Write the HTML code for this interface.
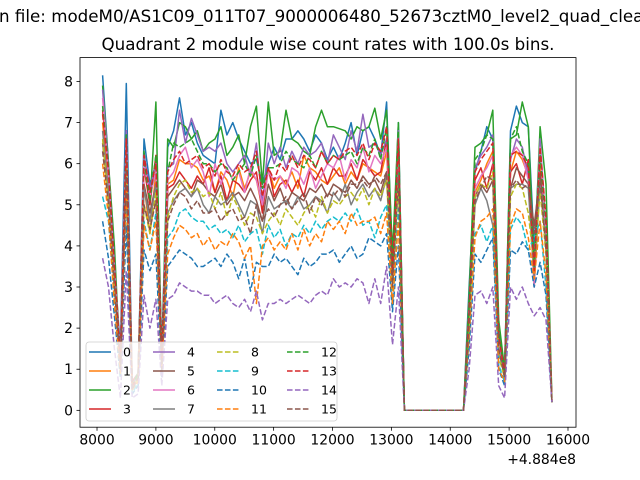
<!DOCTYPE html>
<html><head><meta charset="utf-8"><style>
html,body{margin:0;padding:0;background:#fff;}
svg{display:block;font-family:"DejaVu Sans","Liberation Sans",sans-serif;}
</style></head><body>
<svg id="chart" width="640" height="480" viewBox="0 0 640 480" xmlns="http://www.w3.org/2000/svg">
<text x="-1" y="22" font-size="16.7" fill="#000">n file: modeM0/AS1C09_011T07_9000006480_52673cztM0_level2_quad_clean.evt</text>
<text x="328" y="50" font-size="16.7" text-anchor="middle" fill="#000">Quadrant 2 module wise count rates with 100.0s bins.</text>
<g id="plot"></g>
</svg>
<script>
const seriesLabels=["0","1","2","3","4","5","6","7","8","9","10","11","12","13","14","15"];
const colors=["#1f77b4","#ff7f0e","#2ca02c","#d62728","#9467bd","#8c564b","#e377c2","#7f7f7f","#bcbd22","#17becf","#1f77b4","#ff7f0e","#2ca02c","#d62728","#9467bd","#8c564b"];
const xTicks=[8000,9000,10000,11000,12000,13000,14000,15000,16000];
const yTicks=[0,1,2,3,4,5,6,7,8];
const seg1Start=8095, seg2Start=14320, binSize=100.5, zeroCount=11;
const seg1=[
[8.15,6.0,3.5,1.5,7.95,0.7,0.9,6.6,5.5,6.0,1.5,6.4,6.8,7.6,6.7,7.0,6.5,6.2,6.1,6.0,7.3,6.7,7.0,6.6,6.3,6.0,6.1,5.5,6.0,6.4,6.1,6.6,6.6,6.8,6.6,6.3,6.7,6.5,6.1,6.4,6.1,6.5,7.0,6.2,6.8,6.9,6.6,6.2,7.5,3.5,7.0],
[7.0,5.5,3.0,1.2,6.0,0.6,0.8,5.5,4.3,5.8,1.0,5.5,5.6,6.1,6.0,6.0,5.9,5.6,5.7,5.3,5.8,5.6,5.2,5.9,5.4,5.8,5.6,4.9,5.9,5.4,5.7,5.5,5.8,5.4,6.2,5.9,5.8,5.6,5.5,5.7,5.9,5.5,5.8,5.6,6.0,5.9,5.8,5.7,6.3,3.0,6.1],
[7.9,6.0,4.0,1.0,6.5,0.5,0.8,6.3,5.0,7.5,1.2,6.6,6.4,7.0,6.9,6.6,6.8,6.3,6.5,6.6,6.9,6.2,6.4,6.7,6.0,6.9,7.4,5.5,7.5,6.2,6.3,7.3,6.6,6.5,6.3,6.2,6.9,7.3,6.9,6.9,6.85,6.8,6.6,6.9,6.8,6.9,7.35,6.6,7.3,3.8,7.0],
[7.3,5.8,3.5,1.3,6.8,0.7,0.9,5.9,5.0,6.2,1.3,5.4,5.5,5.8,5.6,5.4,5.7,5.5,5.9,5.3,5.7,5.1,5.6,5.5,5.3,5.6,5.8,4.8,5.9,5.2,5.5,5.6,5.3,5.6,5.2,5.8,5.6,5.9,5.5,5.9,5.7,5.7,6.0,5.6,6.1,5.9,5.7,5.8,6.6,3.3,6.5],
[7.8,5.9,3.6,1.2,6.8,0.6,0.8,6.2,5.4,6.0,1.2,5.9,6.0,7.3,6.5,7.1,6.7,6.3,6.4,6.3,6.5,6.0,5.8,6.0,6.2,5.7,6.5,5.0,6.5,6.0,6.4,5.9,6.3,6.0,6.4,6.2,6.3,6.5,6.0,6.7,6.4,6.1,6.8,6.3,7.2,6.4,6.5,6.2,6.6,3.2,6.8],
[6.5,5.2,3.3,1.1,6.3,0.6,0.9,5.5,4.8,5.5,1.2,5.2,5.4,5.6,5.4,5.2,5.6,5.5,5.3,5.2,5.5,5.0,5.2,5.3,5.1,5.4,5.1,4.6,5.5,5.1,5.4,5.0,5.3,5.2,5.1,5.4,5.3,5.5,5.2,5.5,5.4,5.3,5.6,5.4,5.7,5.5,5.6,5.3,5.8,3.1,6.0],
[7.6,5.7,3.4,1.2,6.6,0.6,0.8,6.0,5.2,5.8,1.2,5.6,5.8,6.2,6.4,5.9,6.1,5.8,5.2,6.0,5.5,5.9,5.6,5.8,5.3,5.9,5.6,5.0,5.8,5.6,5.7,5.4,5.9,5.8,5.5,5.9,5.4,5.7,6.0,5.9,6.2,5.6,6.1,5.9,6.4,5.8,6.2,6.0,6.4,3.2,6.3],
[6.8,5.3,3.2,1.1,6.2,0.6,0.9,5.4,4.6,5.5,1.1,4.8,5.1,5.3,5.4,5.2,5.4,5.0,4.8,5.2,5.0,5.1,5.3,5.0,4.7,5.1,5.0,4.3,5.2,4.9,5.0,5.1,4.9,5.2,4.9,5.0,5.2,5.1,4.8,5.3,5.1,5.5,5.0,5.3,5.5,5.2,5.4,5.1,5.7,3.0,5.8],
[6.6,5.0,3.0,1.0,5.9,0.5,0.8,5.0,4.3,5.3,1.0,4.7,5.2,5.5,5.6,5.3,5.4,5.2,5.3,4.9,5.3,4.7,5.2,4.9,4.5,4.8,4.7,4.3,4.6,4.8,4.5,4.9,4.7,4.5,4.8,5.0,4.7,5.2,4.8,5.1,5.0,5.2,5.3,5.1,5.4,5.0,5.4,5.2,5.6,2.9,5.6],
[5.2,4.6,2.7,0.8,5.2,0.4,0.7,4.6,3.9,4.8,0.9,4.2,4.4,4.8,4.9,4.7,4.6,4.6,4.4,4.5,4.3,4.4,4.2,4.5,4.1,4.3,4.4,3.8,4.5,4.2,4.4,4.0,4.3,4.2,4.5,4.3,4.6,4.4,4.6,4.7,4.6,4.8,4.6,4.9,4.5,4.6,4.2,4.7,5.0,2.5,4.9],
[4.6,3.7,2.3,0.8,4.5,0.4,0.6,3.9,3.4,3.8,0.8,3.5,3.7,3.9,3.8,3.7,3.5,3.5,3.6,3.7,3.5,3.8,3.6,3.2,3.7,2.9,3.6,3.5,3.5,3.8,3.6,3.7,3.5,3.3,3.7,3.5,3.6,3.8,3.8,3.9,3.6,3.8,4.0,3.7,3.8,4.2,4.1,4.0,4.3,2.4,4.0],
[6.0,4.7,2.6,0.9,5.4,0.5,0.7,4.5,3.9,4.6,1.0,3.8,4.2,4.5,4.4,4.2,4.3,4.0,4.2,3.9,4.1,4.0,4.3,4.1,3.7,4.0,2.6,4.0,4.2,3.9,4.1,3.9,4.3,3.9,4.4,4.0,4.3,4.1,4.6,4.4,4.6,4.3,4.8,4.5,4.6,4.6,4.7,4.3,4.8,2.6,4.6],
[7.4,5.9,3.6,1.2,6.7,0.6,0.9,6.1,5.1,6.2,1.3,5.8,6.5,6.4,6.5,6.6,6.3,6.0,6.0,5.8,6.0,5.9,5.6,5.8,6.0,5.7,6.2,5.4,5.9,5.9,6.0,6.3,6.1,6.0,5.9,6.2,5.9,6.3,6.0,6.2,6.1,6.2,6.3,6.0,6.4,6.2,6.6,6.1,6.9,3.4,6.8],
[7.2,5.8,3.5,1.2,6.6,0.6,0.8,6.2,5.3,6.0,1.2,5.8,6.1,6.3,6.0,6.1,6.2,5.9,6.0,5.7,6.1,5.8,5.7,6.0,5.8,5.9,6.3,5.2,5.9,5.6,6.0,5.8,6.2,5.9,6.2,6.1,5.9,6.3,6.0,6.2,6.1,6.3,6.4,6.2,6.5,6.1,6.5,6.3,6.9,3.3,6.6],
[3.7,3.0,1.5,0.3,3.4,0.3,0.4,2.8,2.0,2.7,0.6,2.7,2.8,3.1,3.0,2.9,2.9,2.8,2.8,2.6,2.7,2.8,2.6,2.5,2.7,2.4,2.9,2.2,2.6,2.6,2.7,2.6,2.7,2.8,2.7,2.6,2.8,2.9,2.8,3.2,3.0,3.1,3.0,3.2,3.1,2.6,3.2,2.6,3.5,1.6,3.0],
[6.3,5.0,3.0,1.0,5.8,0.5,0.8,5.0,4.4,5.1,1.0,4.6,5.0,5.3,5.2,4.9,5.1,4.8,4.8,4.9,4.6,4.8,4.9,4.6,4.7,4.3,5.0,4.6,4.9,4.7,5.0,5.2,4.9,5.1,5.3,4.8,5.2,5.0,5.3,5.2,5.4,5.2,5.5,5.5,5.6,5.4,5.7,5.5,5.8,3.0,5.6]
];
const seg2=[
[3.0,5.8,6.3,6.9,6.6,2.0,1.0,6.8,7.4,7.0,6.9,4.0,6.4,4.5,0.2],
[2.3,5.3,5.6,6.0,6.3,1.8,0.8,5.8,6.3,6.1,5.7,3.3,6.0,4.0,0.2],
[2.8,6.4,6.5,6.7,7.3,2.2,1.0,6.6,6.7,7.5,6.9,3.5,6.9,5.5,0.3],
[2.3,5.6,5.9,5.4,6.0,1.6,0.9,5.8,6.0,5.5,6.1,3.0,5.8,4.2,0.2],
[2.5,5.9,6.2,6.4,6.7,1.8,0.9,6.1,6.6,6.4,5.7,3.4,6.6,4.4,0.2],
[2.1,5.2,5.5,5.3,5.6,1.5,0.8,5.4,5.9,5.7,5.5,4.5,5.7,4.0,0.2],
[2.4,5.4,5.7,5.9,6.2,1.7,0.8,6.2,6.4,6.2,5.6,3.0,6.4,4.3,0.2],
[2.2,5.0,5.4,5.1,4.5,1.5,0.8,5.4,5.5,5.5,5.4,3.2,5.5,4.0,0.2],
[2.0,5.2,5.5,5.4,5.8,1.3,0.8,5.2,5.5,5.4,4.8,3.5,5.3,3.8,0.2],
[1.7,4.3,4.5,4.1,4.5,1.1,0.7,4.4,4.7,4.5,3.9,4.2,4.6,3.0,0.2],
[1.5,3.8,3.6,3.9,4.2,1.0,0.6,3.9,3.8,4.1,3.9,3.0,3.6,2.8,0.2],
[1.8,4.2,4.6,4.7,4.9,1.0,0.7,4.5,4.9,4.8,4.2,3.2,4.6,3.3,0.2],
[2.5,6.1,6.3,6.7,6.6,1.9,0.9,6.6,6.9,6.3,6.0,3.5,6.2,4.5,0.2],
[2.4,5.8,6.1,6.3,6.5,1.8,0.9,6.2,6.3,6.2,5.9,3.4,6.4,4.7,0.2],
[1.0,2.8,2.9,2.6,3.0,0.6,0.3,3.0,2.7,3.0,2.6,2.3,2.5,2.2,0.2],
[2.1,5.1,5.4,5.7,5.6,1.5,0.8,5.4,5.6,5.4,5.5,4.3,5.6,3.9,0.2]
];
const NS="http://www.w3.org/2000/svg";
const L=80,R=576,T=57.6,B=427.2;
const xMin=7711,xMax=16136,yMin=-0.41,yMax=8.58;
function xs(v){return L+(v-xMin)/(xMax-xMin)*(R-L);}
function ys(v){return B-(v-yMin)/(yMax-yMin)*(B-T);}
const g=document.getElementById('plot');
function mk(tag,attrs,parent){const e=document.createElementNS(NS,tag);for(const k in attrs)e.setAttribute(k,attrs[k]);(parent||g).appendChild(e);return e;}
const clip=mk('clipPath',{id:'clipR'});mk('rect',{x:L,y:T,width:R-L,height:B-T},clip);
const linesG=mk('g',{'clip-path':'url(#clipR)'});


for(let s=0;s<seriesLabels.length;s++){
  const pts=[];
  seg1[s].forEach((v,i)=>pts.push([seg1Start+binSize*i,v]));
  const zStart=seg1Start+binSize*seg1[s].length;
  for(let k=0;k<zeroCount;k++)pts.push([zStart+binSize*k,0]);
  seg2[s].forEach((v,i)=>pts.push([seg2Start+binSize*i,v]));
  const d=pts.map((p,i)=>(i?'L':'M')+xs(p[0]).toFixed(1)+' '+ys(p[1]).toFixed(1)).join(' ');
  const p=mk('path',{d:d,fill:'none',stroke:colors[s],'stroke-width':1.5,'stroke-linejoin':'round'},linesG);
  if(s>=8)p.setAttribute('stroke-dasharray','5.55,2.4');
  
  
}
const frame=mk('rect',{x:L,y:T,width:R-L,height:B-T,fill:'none',stroke:'#000','stroke-width':0.8});


xTicks.forEach(t=>{
  const x=xs(t);
  const tk=mk('line',{x1:x,x2:x,y1:B,y2:B+3.5,stroke:'#000','stroke-width':0.8});
  
  
  const tx=mk('text',{x:x,y:B+17.5,'font-size':13.9,'text-anchor':'middle'});tx.textContent=t;
  
  
});
yTicks.forEach(t=>{
  const y=ys(t);
  const tk=mk('line',{x1:L-3.5,x2:L,y1:y,y2:y,stroke:'#000','stroke-width':0.8});
  
  
  const tx=mk('text',{x:L-7,y:y+5,'font-size':13.9,'text-anchor':'end'});tx.textContent=t;
  
  
});
const off=mk('text',{x:R,y:B+37,'font-size':13.9,'text-anchor':'end'});off.textContent='+4.884e8';


const lg=mk('g',{});


mk('rect',{x:86,y:342,width:251,height:79,rx:3,fill:'#fff','fill-opacity':0.8,stroke:'#ccc','stroke-width':0.8},lg);
const colX=[89,153,217,287], rowY=[352,371,390,409];
for(let s=0;s<seriesLabels.length;s++){
  const c=Math.floor(s/4), r=s%4, x=colX[c], y=rowY[r];
  const eg=mk('g',{},lg);
  
  
  const ln=mk('line',{x1:x,x2:x+22,y1:y,y2:y,stroke:colors[s],'stroke-width':1.5},eg);
  if(s>=8)ln.setAttribute('stroke-dasharray','5.55,2.4');
  const tx=mk('text',{x:x+34,y:y+4.5,'font-size':12.5},eg);tx.textContent=seriesLabels[s];
}
</script>
</body></html>
